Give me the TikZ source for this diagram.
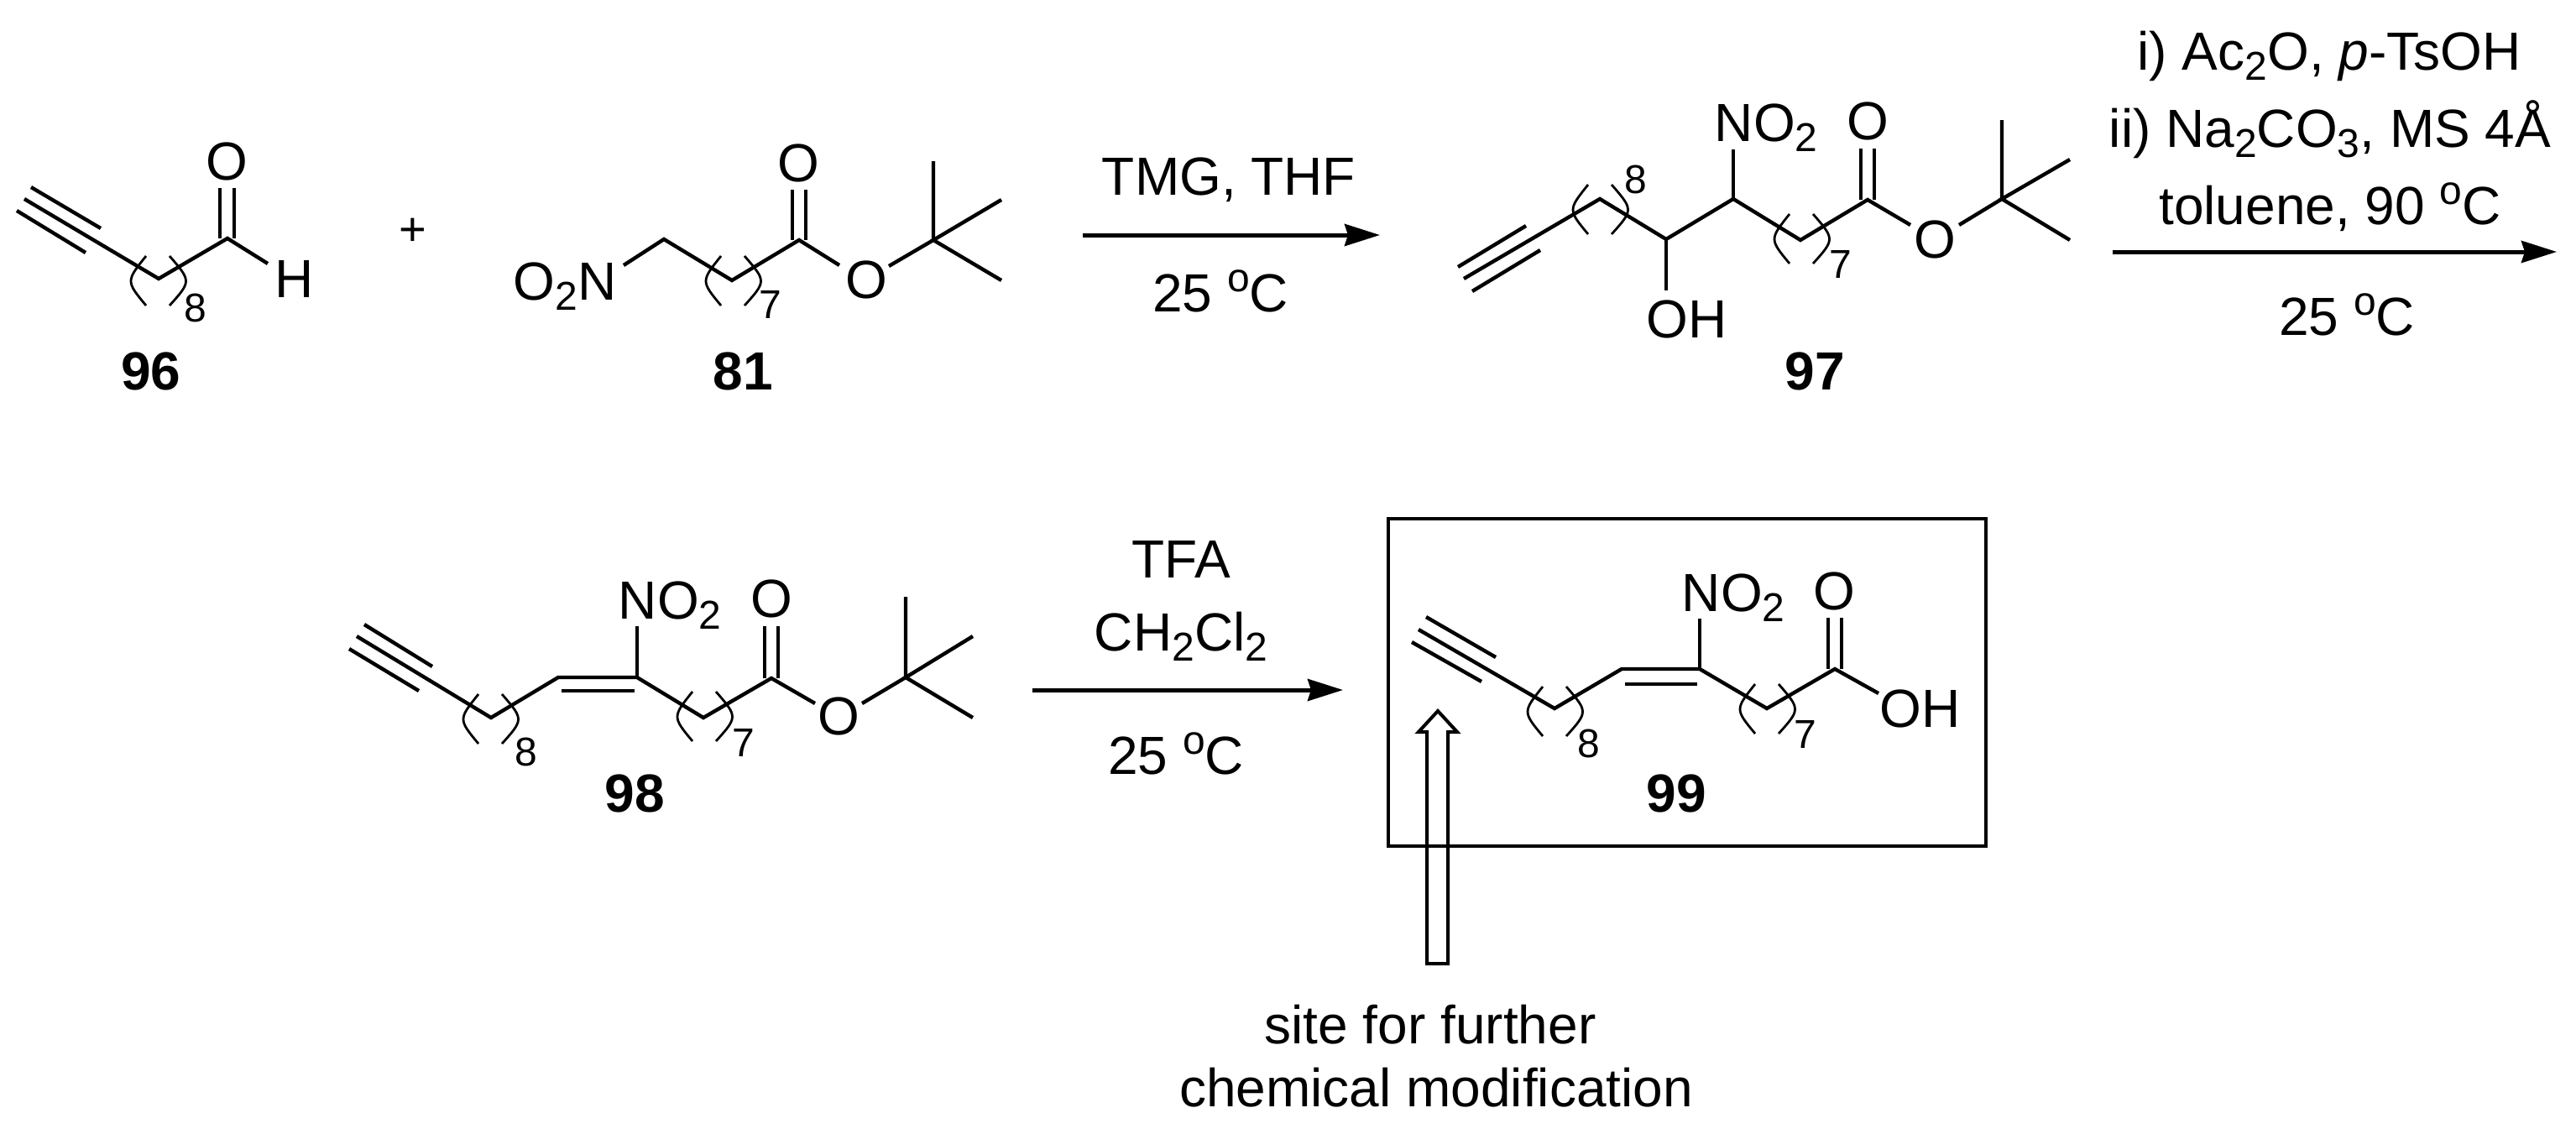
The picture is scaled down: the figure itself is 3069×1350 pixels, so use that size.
\documentclass[tikz,border=0pt]{standalone}
\usepackage{fontspec}
\setmainfont{Liberation Sans}
\usetikzlibrary{calc,arrows.meta}
\def\lowsub#1{\raisebox{-3.2pt}{\fontsize{12}{14}\selectfont #1}}
\def\degC{\raisebox{6pt}{\fontsize{12}{14}\selectfont o}C}
\def\chainmark(#1,#2){\draw[thinbond] ($(#1,#2)+(-14,0)$) .. controls ($(#1,#2)+(-38,30)$) .. ($(#1,#2)+(-14,59)$);
	\draw[thinbond] ($(#1,#2)+(14,0)$) .. controls ($(#1,#2)+(40,30)$) .. ($(#1,#2)+(14,59)$);}
\tikzset{
	bond/.style={line width=1.1pt, line join=miter},
	thinbond/.style={line width=0.7pt},
	rxnarrow/.style={line width=1.25pt, -{Stealth[length=10.5pt,width=6.5pt,inset=1pt]}},
	chem/.style={inner sep=0pt, font=\fontsize{16}{19}\selectfont},
	cond/.style={chem, anchor=base},
	atomlabel/.style={chem, anchor=base west},
	idx/.style={inner sep=0pt, font=\fontsize{12}{14}\selectfont},
	cmpd/.style={inner sep=0pt, font=\fontsize{16}{19}\selectfont\bfseries}
}

\begin{document}
\begin{tikzpicture}[x=0.25pt, y=-0.25pt]
	\useasboundingbox (0, 0) rectangle (3069, 1350);

	%%%%% aldehyde 96
	\draw[bond] (29, 237) -- (189, 332) -- (271, 284) -- (319, 314);
	\draw[bond] (37, 223) -- (120, 272);
	\draw[bond] (20, 251) -- (102, 301);
	\draw[bond] (262, 224) -- (262, 284);
	\draw[bond] (279, 224) -- (279, 284);
	\chainmark(188, 305);
	\node[chem] (oxoA) at (270, 192) {O};
	\node[chem] (hA) at (351, 332) {H};
	\node[idx] (eightA) at (233, 367) {8};
	\node[cmpd] (numA) at (180, 442) {96};
	\node[chem, font=\fontsize{14}{16}\selectfont] (plus) at (492, 276) {+};

	%%%%% nitro ester 81
	\draw[bond] (743, 316) -- (791, 285) -- (872, 334) -- (952, 286) -- (1000, 316);
	\draw[bond] (944, 226) -- (944, 286);
	\draw[bond] (960, 226) -- (960, 286);
	\draw[bond] (1059, 317) -- (1112, 286) -- (1112, 192);
	\draw[bond] (1193, 238) -- (1112, 286) -- (1193, 334);
	\chainmark(873, 305);
	\node[atomlabel] (nitroB) at (611, 357) {O\lowsub{2}N};
	\node[chem] (oxoB) at (951, 194) {O};
	\node[chem] (oxyB) at (1032, 333) {O};
	\node[idx] (sevenB) at (918, 363) {7};
	\node[cmpd] (numB) at (885, 442) {81};

	%%%%% first arrow
	\coordinate (arrA1) at (1290, 280);
	\coordinate (arrA2) at (1644, 280);
	\draw[rxnarrow] (arrA1) -- (arrA2);
	\node[cond] (tmg) at (1464, 232) {TMG, THF};
	\node[cond] (tempA) at (1454, 371) {25 \degC};

	%%%%% nitro alcohol 97
	\draw[bond] (1744, 332) -- (1906, 237) -- (1985, 285) -- (2065, 237) -- (2145, 286) -- (2225, 238) -- (2276, 268);
	\draw[bond] (1737, 318) -- (1818, 269);
	\draw[bond] (1754, 347) -- (1835, 298);
	\draw[bond] (1985, 285) -- (1985, 346);
	\draw[bond] (2065, 237) -- (2065, 178);
	\draw[bond] (2217, 177) -- (2217, 238);
	\draw[bond] (2233, 177) -- (2233, 238);
	\draw[bond] (2334, 268) -- (2385, 237) -- (2385, 143);
	\draw[bond] (2466, 190) -- (2385, 237) -- (2466, 286);
	\chainmark(1906, 220);
	\chainmark(2146, 255);
	\node[atomlabel] (nitroC) at (2042, 168) {NO\lowsub{2}};
	\node[atomlabel] (hydroxC) at (1961, 402) {OH};
	\node[chem] (oxoC) at (2225, 144) {O};
	\node[chem] (oxyC) at (2305, 285) {O};
	\node[idx] (eightC) at (1949, 214) {8};
	\node[idx] (sevenC) at (2193, 315) {7};
	\node[cmpd] (numC) at (2162, 442) {97};

	%%%%% second arrow
	\coordinate (arrB1) at (2517, 300);
	\coordinate (arrB2) at (3046, 300);
	\draw[rxnarrow] (arrB1) -- (arrB2);
	\node[cond] (acyl) at (2775, 83) {i) Ac\lowsub{2}O, \textit{p}-TsOH};
	\node[cond] (base) at (2776, 175) {ii) Na\lowsub{2}CO\lowsub{3}, MS 4Å};
	\node[cond] (tolu) at (2776, 267) {toluene, 90 \degC};
	\node[cond] (tempB) at (2796, 399) {25 \degC};

	%%%%% nitroalkene 98
	\draw[bond] (425, 758) -- (585, 855) -- (665, 807) -- (759, 807) -- (838, 855) -- (919, 808) -- (971, 838);
	\draw[bond] (434, 744) -- (515, 794);
	\draw[bond] (416, 773) -- (499, 823);
	\draw[bond] (669, 823) -- (756, 823);
	\draw[bond] (759, 807) -- (759, 746);
	\draw[bond] (911, 746) -- (911, 808);
	\draw[bond] (927, 746) -- (927, 808);
	\draw[bond] (1027, 838) -- (1079, 807) -- (1079, 711);
	\draw[bond] (1159, 758) -- (1079, 807) -- (1159, 855);
	\chainmark(584, 827);
	\chainmark(839, 824);
	\node[atomlabel] (nitroD) at (736, 737) {NO\lowsub{2}};
	\node[chem] (oxoD) at (919, 713) {O};
	\node[chem] (oxyD) at (999, 853) {O};
	\node[idx] (eightD) at (627, 896) {8};
	\node[idx] (sevenD) at (886, 885) {7};
	\node[cmpd] (numD) at (756, 945) {98};

	%%%%% third arrow
	\coordinate (arrC1) at (1230, 822);
	\coordinate (arrC2) at (1600, 822);
	\draw[rxnarrow] (arrC1) -- (arrC2);
	\node[cond] (tfa) at (1407, 688) {TFA};
	\node[cond] (dcm) at (1407, 775) {CH\lowsub{2}Cl\lowsub{2}};
	\node[cond] (tempC) at (1401, 922) {25 \degC};

	%%%%% boxed acid 99
	\draw[line width=0.9pt] (1654, 618) rectangle (2366, 1008);
	\draw[bond] (1690, 750) -- (1852, 844) -- (1932, 797) -- (2025, 797) -- (2105, 844) -- (2186, 797) -- (2238, 826);
	\draw[bond] (1699, 735) -- (1782, 783);
	\draw[bond] (1682, 765) -- (1765, 812);
	\draw[bond] (1936, 815) -- (2022, 815);
	\draw[bond] (2025, 797) -- (2025, 737);
	\draw[bond] (2178, 736) -- (2178, 797);
	\draw[bond] (2194, 736) -- (2194, 797);
	\chainmark(1852, 818);
	\chainmark(2105, 815);
	\node[atomlabel] (nitroE) at (2003, 728) {NO\lowsub{2}};
	\node[chem] (oxoE) at (2185, 704) {O};
	\node[atomlabel] (hydroxE) at (2239, 866) {OH};
	\node[idx] (eightE) at (1893, 886) {8};
	\node[idx] (sevenE) at (2151, 875) {7};
	\node[cmpd] (numE) at (1997, 945) {99};

	%%%%% open arrow and its note
	\coordinate (siteTip) at (1713, 847);
	\draw[line width=1pt, line join=miter] (siteTip) -- ++(23, 25) -- ++(-11, 0) -- ++(0, 276) -- ++(-25, 0) -- ++(0, -276) -- ++(-10, 0) -- cycle;
	\node[cond] (siteA) at (1704, 1243) {site for further};
	\node[cond] (siteB) at (1711, 1318) {chemical modification};
\end{tikzpicture}
\end{document}
